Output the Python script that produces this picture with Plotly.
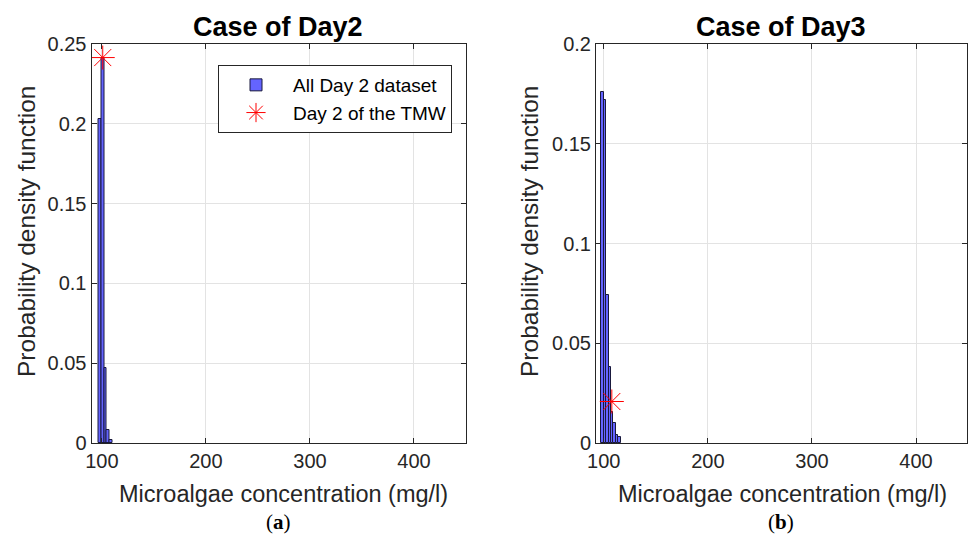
import plotly.graph_objects as go

# ---- data ----
day2_centers = [98.2, 100.8, 103.4, 106.0, 108.6]
day2_pdf = [0.203, 0.241, 0.047, 0.008, 0.002]
day2_width = 2.6
day2_tmw_x = [100.8]
day2_tmw_y = [0.2415]

day3_centers = [98.85, 101.15, 103.45, 105.75, 108.05, 110.35, 112.65, 114.95]
day3_pdf = [0.176, 0.172, 0.0744, 0.038, 0.0157, 0.0099, 0.004, 0.0029]
day3_width = 2.3
day3_tmw_x = [107.7]
day3_tmw_y = [0.0208]

x_ticks = [100, 200, 300, 400]
y_ticks_a = [0, 0.05, 0.1, 0.15, 0.2, 0.25]
y_ticks_b = [0, 0.05, 0.1, 0.15, 0.2]
y_labels_a = ["0", "0.05", "0.1", "0.15", "0.2", "0.25"]
y_labels_b = ["0", "0.05", "0.1", "0.15", "0.2"]

BAR_FILL = "rgb(100,100,255)"
BAR_EDGE = "rgb(25,25,60)"
AX = "#262626"
GRID = "#e3e3e3"
FONT = "Liberation Sans, Arial, sans-serif"

fig = go.Figure()
fig.add_trace(go.Bar(x=day2_centers, y=day2_pdf, width=[day2_width]*len(day2_centers),
                     marker=dict(color=BAR_FILL, line=dict(color=BAR_EDGE, width=1)),
                     name="All Day 2 dataset", xaxis="x", yaxis="y"))
fig.add_trace(go.Scatter(x=day2_tmw_x, y=day2_tmw_y, mode="markers",
                         marker=dict(symbol="asterisk-open", size=20, color="red",
                                     line=dict(color="red", width=1)),
                         name="Day 2 of the TMW", xaxis="x", yaxis="y"))
fig.add_trace(go.Bar(x=day3_centers, y=day3_pdf, width=[day3_width]*len(day3_centers),
                     marker=dict(color=BAR_FILL, line=dict(color=BAR_EDGE, width=1)),
                     showlegend=False, xaxis="x2", yaxis="y2"))
fig.add_trace(go.Scatter(x=day3_tmw_x, y=day3_tmw_y, mode="markers",
                         marker=dict(symbol="asterisk-open", size=20, color="red",
                                     line=dict(color="red", width=1)),
                         showlegend=False, xaxis="x2", yaxis="y2"))

W, H = 968, 536
def px_x(p):
    return p / W
def px_y(p):
    return 1 - p / H

axis_common = dict(showline=True, linecolor=AX, linewidth=1, mirror="ticks",
                   ticks="inside", ticklen=5, tickcolor=AX,
                   showgrid=True, gridcolor=GRID, gridwidth=1, zeroline=False,
                   automargin=False,
                   tickfont=dict(family=FONT, size=20, color=AX))

fig.update_layout(
    width=W, height=H,
    margin=dict(l=0, r=0, t=0, b=0, autoexpand=False),
    paper_bgcolor="white", plot_bgcolor="white",
    bargap=0, barmode="overlay",
    showlegend=True,
    legend=dict(x=px_x(452), y=px_y(65), xanchor="right", yanchor="top",
                bgcolor="white", bordercolor=AX, borderwidth=1,
                font=dict(family=FONT, size=19, color="black"),
                itemwidth=64, tracegroupgap=0),
    xaxis=dict(domain=[px_x(91.5), px_x(466)], range=[90, 450], tickvals=x_ticks,
               anchor="y", **axis_common),
    yaxis=dict(domain=[px_y(443), px_y(44)], range=[0, 0.25], tickvals=y_ticks_a,
               ticktext=y_labels_a, anchor="x", **axis_common),
    xaxis2=dict(domain=[px_x(596), px_x(967)], range=[92.5, 449], tickvals=x_ticks,
                anchor="y2", **axis_common),
    yaxis2=dict(domain=[px_y(443), px_y(44)], range=[0, 0.2], tickvals=y_ticks_b,
                ticktext=y_labels_b, anchor="x2", **axis_common),
)

def ann(text, x, y, size, angle=0, family=FONT, color="black"):
    fig.add_annotation(text=text, x=px_x(x), y=px_y(y), xref="paper", yref="paper",
                       showarrow=False, textangle=angle, xanchor="center", yanchor="middle",
                       font=dict(family=family, size=size, color=color))

ann("<b>Case of Day2</b>", 278, 27, 27)
ann("<b>Case of Day3</b>", 781, 27, 27)
ann("Probability density function", 27, 232, 24.5, angle=-90, color=AX)
ann("Probability density function", 530, 232, 24.5, angle=-90, color=AX)
ann("Microalgae concentration (mg/l)", 283, 494, 23.5, color=AX)
ann("Microalgae concentration (mg/l)", 782, 494, 23.5, color=AX)
ann("(<b>a</b>)", 278, 522, 21, family="Liberation Serif, serif")
ann("(<b>b</b>)", 781, 522, 21, family="Liberation Serif, serif")

fig.write_html("out.html")
